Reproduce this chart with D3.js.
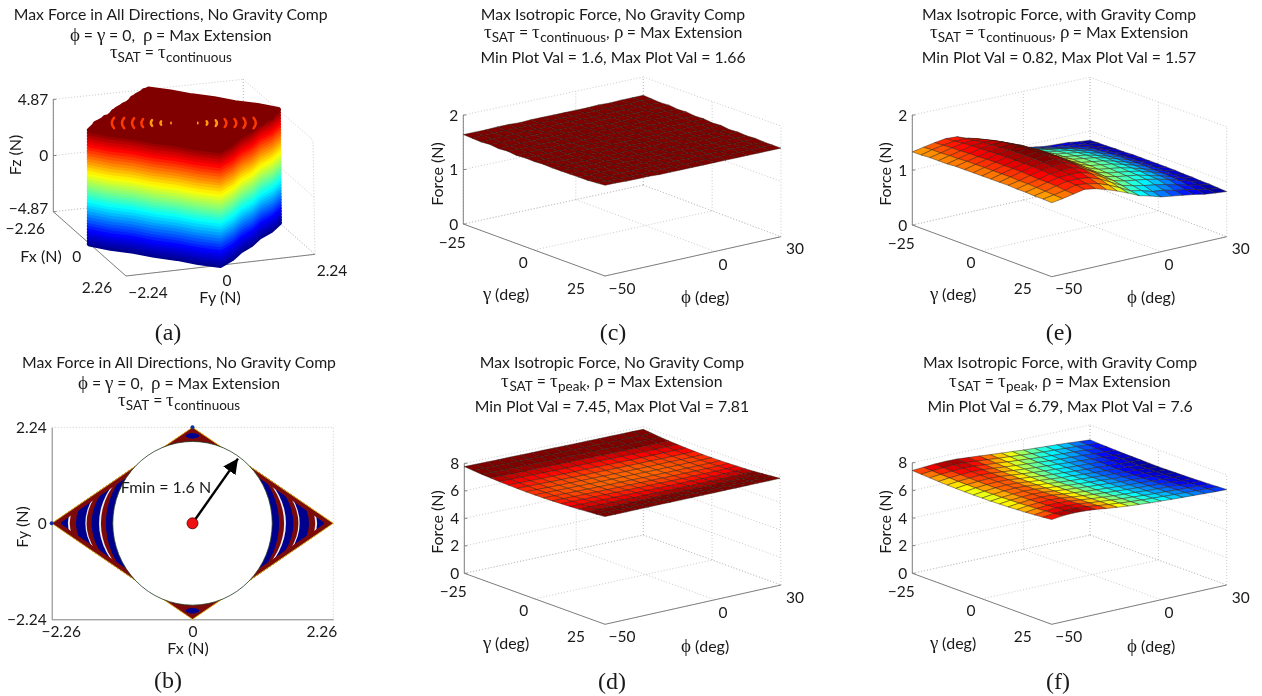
<!DOCTYPE html>
<html>
<head>
<meta charset="utf-8">
<style>
@font-face{
    font-family: "GreekSym";
    src: local("Liberation Serif");
    unicode-range: U+0370-03FF;
    size-adjust: 118%;
}
body{ margin: 0; background: #fff; }
svg{ display: block; filter: blur(0.35px); }
text{ font-family: "GreekSym", "Lato", sans-serif; fill: #1a1a1a; }
.title{ font-size: 15.8px; text-anchor: middle; }
.tick{ font-size: 15.5px; }
.label{ font-size: 16px; text-anchor: middle; }
.caption{ font-family: "Liberation Serif", serif; font-size: 24px; text-anchor: middle; }
.wall{ fill: none; stroke: #bdbdbd; stroke-width: 0.8; stroke-dasharray: 1 2; }
.axis3d{ fill: none; stroke: #808080; stroke-width: 1; }
</style>
<script src="https://d3js.org/d3.v7.min.js"></script>
</head>

<body>
<script>
// ---- data ----
var gammaDeg = [-25,-21.875,-18.75,-15.625,-12.5,-9.375,-6.25,-3.125,0,3.125,6.25,9.375,12.5,15.625,18.75,21.875,25];
var phiDeg = [-50,-45,-40,-35,-30,-25,-20,-15,-10,-5,0,5,10,15,20,25,30];

// rows are gamma, columns are phi
var forceC = [
[1.64,1.64,1.64,1.65,1.65,1.64,1.65,1.65,1.65,1.65,1.65,1.65,1.66,1.65,1.66,1.66,1.66],
[1.63,1.64,1.64,1.64,1.64,1.64,1.64,1.65,1.65,1.64,1.65,1.65,1.65,1.65,1.65,1.66,1.65],
[1.62,1.63,1.63,1.63,1.64,1.63,1.64,1.64,1.64,1.64,1.64,1.64,1.65,1.64,1.65,1.65,1.64],
[1.63,1.62,1.63,1.63,1.63,1.63,1.63,1.63,1.64,1.63,1.64,1.64,1.64,1.64,1.64,1.64,1.65],
[1.61,1.62,1.62,1.62,1.63,1.62,1.63,1.63,1.63,1.63,1.63,1.63,1.64,1.63,1.64,1.64,1.63],
[1.62,1.61,1.62,1.62,1.62,1.62,1.62,1.62,1.63,1.62,1.63,1.63,1.63,1.63,1.63,1.63,1.64],
[1.60,1.61,1.61,1.61,1.62,1.61,1.62,1.62,1.62,1.62,1.62,1.62,1.63,1.62,1.63,1.63,1.62],
[1.61,1.60,1.61,1.61,1.61,1.61,1.61,1.61,1.62,1.61,1.62,1.62,1.62,1.62,1.62,1.62,1.63],
[1.60,1.60,1.60,1.61,1.61,1.61,1.61,1.61,1.61,1.61,1.61,1.61,1.62,1.61,1.62,1.62,1.61],
[1.61,1.60,1.60,1.60,1.61,1.60,1.61,1.61,1.61,1.61,1.61,1.61,1.61,1.61,1.61,1.61,1.62],
[1.60,1.60,1.60,1.60,1.60,1.60,1.60,1.61,1.61,1.60,1.61,1.61,1.61,1.61,1.61,1.61,1.60],
[1.60,1.60,1.60,1.60,1.60,1.60,1.60,1.60,1.60,1.60,1.60,1.60,1.61,1.60,1.61,1.61,1.61],
[1.60,1.60,1.60,1.60,1.60,1.60,1.60,1.60,1.60,1.60,1.60,1.60,1.60,1.60,1.60,1.60,1.60],
[1.60,1.60,1.60,1.60,1.60,1.60,1.60,1.60,1.60,1.60,1.60,1.60,1.60,1.60,1.60,1.60,1.61],
[1.60,1.60,1.60,1.60,1.60,1.60,1.60,1.60,1.60,1.60,1.60,1.60,1.60,1.60,1.60,1.60,1.60],
[1.61,1.60,1.60,1.60,1.60,1.60,1.60,1.60,1.60,1.60,1.60,1.60,1.60,1.60,1.60,1.61,1.60],
[1.62,1.62,1.61,1.61,1.61,1.60,1.60,1.60,1.60,1.60,1.60,1.60,1.60,1.60,1.60,1.60,1.60]
];
var forceD = [
[7.76,7.76,7.76,7.76,7.77,7.77,7.77,7.78,7.78,7.78,7.78,7.79,7.79,7.80,7.80,7.81,7.81],
[7.70,7.69,7.69,7.69,7.70,7.70,7.70,7.70,7.70,7.70,7.70,7.71,7.71,7.72,7.72,7.73,7.74],
[7.64,7.64,7.63,7.63,7.63,7.63,7.63,7.64,7.64,7.64,7.64,7.64,7.65,7.65,7.66,7.67,7.67],
[7.60,7.59,7.58,7.58,7.58,7.58,7.58,7.58,7.58,7.58,7.58,7.58,7.59,7.59,7.60,7.61,7.62],
[7.56,7.55,7.54,7.54,7.54,7.53,7.53,7.53,7.53,7.53,7.53,7.54,7.54,7.55,7.55,7.56,7.58],
[7.53,7.52,7.51,7.50,7.50,7.50,7.50,7.50,7.50,7.50,7.50,7.50,7.51,7.51,7.52,7.53,7.54],
[7.51,7.50,7.49,7.48,7.48,7.47,7.47,7.47,7.47,7.47,7.47,7.47,7.48,7.48,7.49,7.50,7.52],
[7.49,7.48,7.47,7.46,7.46,7.46,7.46,7.45,7.45,7.45,7.45,7.45,7.46,7.47,7.47,7.48,7.50],
[7.49,7.48,7.47,7.46,7.46,7.45,7.45,7.45,7.45,7.45,7.45,7.45,7.46,7.46,7.47,7.48,7.50],
[7.49,7.48,7.47,7.46,7.46,7.45,7.45,7.45,7.45,7.45,7.45,7.45,7.46,7.46,7.47,7.48,7.50],
[7.50,7.49,7.48,7.48,7.48,7.47,7.47,7.47,7.47,7.47,7.47,7.47,7.48,7.48,7.49,7.50,7.52],
[7.52,7.51,7.50,7.50,7.50,7.49,7.49,7.49,7.49,7.49,7.49,7.49,7.50,7.50,7.51,7.52,7.54],
[7.54,7.53,7.53,7.52,7.52,7.52,7.52,7.52,7.52,7.52,7.52,7.52,7.53,7.53,7.54,7.55,7.56],
[7.57,7.57,7.56,7.56,7.56,7.55,7.55,7.56,7.56,7.56,7.56,7.56,7.57,7.57,7.58,7.59,7.60],
[7.61,7.60,7.60,7.60,7.60,7.60,7.60,7.60,7.61,7.61,7.61,7.61,7.62,7.62,7.63,7.63,7.65],
[7.65,7.65,7.65,7.65,7.65,7.66,7.66,7.66,7.66,7.66,7.66,7.67,7.67,7.67,7.68,7.69,7.70],
[7.70,7.70,7.70,7.71,7.71,7.72,7.72,7.72,7.73,7.73,7.73,7.74,7.74,7.74,7.75,7.75,7.76]
];
var forceE = [
[1.33,1.37,1.41,1.44,1.43,1.36,1.28,1.18,1.08,1.02,0.97,0.93,0.90,0.89,0.88,0.85,0.83],
[1.33,1.38,1.42,1.45,1.45,1.41,1.33,1.22,1.12,1.06,1.01,0.97,0.94,0.92,0.89,0.86,0.84],
[1.34,1.38,1.43,1.47,1.48,1.45,1.37,1.26,1.16,1.10,1.06,1.02,0.98,0.95,0.92,0.87,0.84],
[1.34,1.39,1.43,1.48,1.50,1.49,1.41,1.30,1.20,1.14,1.10,1.07,1.03,0.98,0.94,0.88,0.85],
[1.34,1.39,1.44,1.48,1.51,1.52,1.44,1.33,1.22,1.16,1.13,1.10,1.05,1.01,0.95,0.89,0.85],
[1.35,1.40,1.44,1.49,1.52,1.54,1.47,1.35,1.24,1.18,1.15,1.12,1.07,1.02,0.96,0.89,0.86],
[1.35,1.40,1.45,1.50,1.53,1.56,1.48,1.37,1.26,1.19,1.16,1.13,1.08,1.02,0.97,0.90,0.86],
[1.35,1.40,1.45,1.50,1.54,1.57,1.50,1.38,1.27,1.20,1.17,1.14,1.09,1.03,0.97,0.90,0.86],
[1.35,1.40,1.45,1.50,1.54,1.57,1.50,1.38,1.27,1.20,1.17,1.14,1.09,1.03,0.97,0.90,0.86],
[1.35,1.40,1.45,1.50,1.54,1.57,1.50,1.38,1.27,1.20,1.17,1.14,1.09,1.03,0.97,0.90,0.86],
[1.35,1.40,1.45,1.50,1.53,1.55,1.48,1.37,1.26,1.19,1.16,1.13,1.08,1.02,0.96,0.90,0.86],
[1.35,1.39,1.44,1.49,1.52,1.54,1.47,1.35,1.24,1.18,1.15,1.12,1.08,1.02,0.96,0.89,0.85],
[1.34,1.39,1.43,1.48,1.50,1.51,1.44,1.34,1.22,1.17,1.14,1.11,1.06,1.01,0.95,0.88,0.85],
[1.34,1.38,1.43,1.47,1.48,1.48,1.41,1.31,1.20,1.15,1.12,1.09,1.05,1.00,0.94,0.88,0.84],
[1.33,1.37,1.42,1.46,1.46,1.44,1.37,1.27,1.17,1.12,1.08,1.05,1.01,0.96,0.91,0.87,0.84],
[1.33,1.36,1.40,1.45,1.43,1.39,1.32,1.23,1.13,1.09,1.03,1.01,0.96,0.93,0.89,0.85,0.83],
[1.32,1.35,1.39,1.43,1.40,1.34,1.27,1.19,1.10,1.05,0.99,0.96,0.93,0.90,0.86,0.84,0.82]
];
var forceF = [
[7.44,7.50,7.56,7.59,7.58,7.52,7.46,7.39,7.33,7.27,7.21,7.16,7.12,7.08,7.03,6.97,6.92],
[7.39,7.46,7.52,7.56,7.54,7.48,7.42,7.35,7.29,7.23,7.17,7.12,7.08,7.04,7.00,6.94,6.89],
[7.35,7.43,7.49,7.53,7.51,7.44,7.38,7.31,7.25,7.19,7.13,7.08,7.05,7.01,6.96,6.91,6.87],
[7.31,7.40,7.46,7.50,7.48,7.41,7.34,7.27,7.21,7.16,7.10,7.05,7.02,6.98,6.93,6.89,6.85],
[7.28,7.37,7.44,7.48,7.45,7.38,7.31,7.24,7.18,7.13,7.08,7.03,6.99,6.95,6.91,6.87,6.83],
[7.26,7.36,7.42,7.46,7.44,7.36,7.29,7.22,7.16,7.11,7.06,7.01,6.98,6.94,6.89,6.85,6.82],
[7.24,7.34,7.41,7.45,7.42,7.34,7.27,7.20,7.14,7.09,7.04,6.99,6.96,6.92,6.88,6.84,6.81],
[7.23,7.33,7.40,7.44,7.41,7.33,7.26,7.19,7.13,7.08,7.03,6.98,6.95,6.91,6.87,6.83,6.80],
[7.23,7.33,7.40,7.44,7.41,7.33,7.26,7.19,7.13,7.08,7.03,6.98,6.95,6.91,6.87,6.83,6.79],
[7.23,7.33,7.40,7.44,7.41,7.33,7.26,7.19,7.13,7.08,7.04,6.98,6.95,6.91,6.87,6.83,6.80],
[7.25,7.35,7.41,7.45,7.42,7.34,7.27,7.20,7.14,7.09,7.04,6.99,6.96,6.92,6.88,6.84,6.81],
[7.26,7.36,7.43,7.46,7.43,7.34,7.27,7.20,7.14,7.09,7.04,7.00,6.97,6.93,6.89,6.85,6.82],
[7.29,7.39,7.45,7.48,7.44,7.35,7.28,7.21,7.15,7.10,7.05,7.01,6.98,6.94,6.90,6.86,6.84],
[7.32,7.42,7.48,7.50,7.45,7.37,7.29,7.22,7.16,7.11,7.07,7.02,6.99,6.95,6.92,6.88,6.86],
[7.36,7.46,7.52,7.52,7.47,7.38,7.31,7.24,7.18,7.13,7.08,7.04,7.01,6.97,6.94,6.91,6.88],
[7.41,7.51,7.56,7.55,7.50,7.40,7.32,7.25,7.19,7.14,7.10,7.06,7.03,7.00,6.96,6.93,6.91],
[7.46,7.56,7.60,7.58,7.52,7.42,7.34,7.27,7.21,7.16,7.12,7.08,7.05,7.02,6.99,6.96,6.94]
];

// panel a: stacked layers of the force cloud
var hullFx = [2.26,1.92,1.51,1.16,0.75,0.41,0,-0.41,-0.75,-1.16,-1.51,-1.92,-2.26,-1.92,-1.51,-1.16,-0.75,-0.41,0,0.41,0.75,1.16,1.51,1.92];
var hullFy = [0,0.40,0.75,1.15,1.49,1.90,2.24,1.90,1.49,1.15,0.75,0.40,0,-0.40,-0.75,-1.15,-1.49,-1.90,-2.24,-1.90,-1.49,-1.15,-0.75,-0.40];
var layerFz = [-4.87,-4.62,-4.37,-4.12,-3.87,-3.62,-3.37,-3.12,-2.87,-2.62,-2.37,-2.12,-1.87,-1.62,-1.37,-1.12,-0.87,-0.62,-0.37,-0.12,0.12,0.37,0.62,0.87,1.12,1.37,1.62,1.87,2.12,2.37,2.62,2.87,3.12,3.37,3.62,3.87,4.12,4.37,4.62,4.87];
var capBumpFx = [-0.30,-0.62,-0.95,-1.30,-1.70,-2.10,0.38,0.70,1.05];
var capBumpFy = [-1.96,-1.62,-1.29,-0.92,-0.56,-0.14,1.92,1.58,1.22];
var rippleFx = [-0.50,-0.42,-0.35,-0.29,-0.23,-0.16,-0.09,0.10,0.16,0.23,0.29,0.36,0.42,0.50];
var rippleFy = [-1.47,-1.26,-1.05,-0.86,-0.67,-0.48,-0.27,0.29,0.48,0.67,0.86,1.07,1.26,1.47];
var rippleLen = [0.9,0.9,0.85,0.7,0.5,0.3,0.12,0.12,0.3,0.5,0.7,0.7,0.85,0.9];

// panel b: nested rings, big to small, clipped by the diamond
var diamondFx = [-2.26,0,2.26,0];
var diamondFy = [0,2.24,0,-2.24];
var ringRx = [2.11,2.00,1.97,1.87,1.72,1.70,1.62,1.50,1.47,1.39];
var ringRy = [1.40,1.40,1.45,1.47,1.59,1.59,1.63,1.73,1.75,1.87];
var ringKind = ["blue","white","red","blue","white","red","blue","white","red","blue"];
var fminRx = 1.28, fminRy = 1.91;
var arrowTip = [0.73,1.51];
var tipBlobFy = [2.04,-2.04];
var tipDotFx = [-2.26,0];
var tipDotFy = [0,2.24];

var titleA = ["Max Force in All Directions, No Gravity Comp","ϕ = γ = 0,  ρ = Max Extension","τ_{SAT} = τ_{continuous}"];
var titleC = ["Max Isotropic Force, No Gravity Comp","τ_{SAT} = τ_{continuous}, ρ = Max Extension","Min Plot Val = 1.6, Max Plot Val = 1.66"];
var titleD = ["Max Isotropic Force, No Gravity Comp","τ_{SAT} = τ_{peak}, ρ = Max Extension","Min Plot Val = 7.45, Max Plot Val = 7.81"];
var titleE = ["Max Isotropic Force, with Gravity Comp","τ_{SAT} = τ_{continuous}, ρ = Max Extension","Min Plot Val = 0.82, Max Plot Val = 1.57"];
var titleF = ["Max Isotropic Force, with Gravity Comp","τ_{SAT} = τ_{peak}, ρ = Max Extension","Min Plot Val = 6.79, Max Plot Val = 7.6"];

// ---- shared stuff ----
var svg = d3.select("body").append("svg").attr("width", 1262).attr("height", 696);

var jet = d3.scaleLinear()
    .domain([0, 1/8, 3/8, 5/8, 7/8, 1])
    .range(["#00008f", "#0000ff", "#00ffff", "#ffff00", "#ff0000", "#800000"])
    .clamp(true);

var fmt = function(d){ return String(d).replace("-", "−"); };

function drawTitle(lines, cx, ys){
    lines.forEach(function(line, i){
        var t = svg.append("text").attr("class", "title").attr("x", cx).attr("y", ys[i]);
        var parts = line.split(/_\{|\}/);
        var shift = 0;
        parts.forEach(function(p, k){
            if(p === "") return;
            var isSub = k % 2 == 1;
            var dy = (isSub ? 4 : 0) - shift;
            shift = isSub ? 4 : 0;
            var s = t.append("tspan").attr("dy", dy).attr("xml:space", "preserve").text(p);
            if(isSub) s.style("font-size", "13.5px");
        });
    });
}

function caption(s, x, y){
    svg.append("text").attr("class", "caption").attr("x", x).attr("y", y).text(s);
}

// bilinear box: corners go left, front, right, back
function makeProjection(box, xS, yS, zS){
    function mix(c, u, v){
        return [
            (1-u)*(1-v)*c[0][0] + u*(1-v)*c[1][0] + u*v*c[2][0] + (1-u)*v*c[3][0],
            (1-u)*(1-v)*c[0][1] + u*(1-v)*c[1][1] + u*v*c[2][1] + (1-u)*v*c[3][1]
        ];
    }
    return function(x, y, z){
        var u = xS(x), v = yS(y), w = zS(z);
        var a = mix(box.floor, u, v), b = mix(box.top, u, v);
        return [a[0] + (b[0]-a[0])*w, a[1] + (b[1]-a[1])*w];
    };
}

function drawBox(g, p, o){
    var x0 = o.xS.domain()[0], x1 = o.xS.domain()[1];
    var y0 = o.yS.domain()[0], y1 = o.yS.domain()[1];
    var z0 = o.zS.domain()[0], z1 = o.zS.domain()[1];
    var seg = d3.line();
    function wall(a, b){ g.append("path").attr("class", "wall").attr("d", seg([a, b])); }
    function solid(a, b){ g.append("path").attr("class", "axis3d").attr("d", seg([a, b])); }

    o.zTicks.forEach(function(z){
        wall(p(x0,y0,z), p(x0,y1,z));
        wall(p(x0,y1,z), p(x1,y1,z));
    });
    o.xTicks.forEach(function(x){
        wall(p(x,y0,z0), p(x,y1,z0));
        wall(p(x,y1,z0), p(x,y1,z1));
    });
    o.yTicks.forEach(function(y){
        wall(p(x0,y,z0), p(x1,y,z0));
        wall(p(x0,y,z0), p(x0,y,z1));
    });

    // z axis and the two front floor edges
    solid(p(x0,y0,z0), p(x0,y0,z1));
    solid(p(x0,y0,z0), p(x1,y0,z0));
    solid(p(x1,y0,z0), p(x1,y1,z0));
    o.zTicks.forEach(function(z){
        var a = p(x0,y0,z);
        solid(a, [a[0]+3, a[1]]);
    });

    o.zTicks.forEach(function(z, i){
        var a = p(x0,y0,z);
        var dy = o.zDy ? o.zDy[i] : 0;
        g.append("text").attr("class", "tick").attr("text-anchor", "end")
            .attr("x", a[0]-5).attr("y", a[1]+5.5+dy).text(fmt(z));
    });
    o.xTicks.forEach(function(x, i){
        var a = p(x,y0,z0);
        g.append("text").attr("class", "tick").attr("text-anchor", "middle")
            .attr("x", a[0]+o.xOff[i][0]).attr("y", a[1]+o.xOff[i][1]+5.5).text(fmt(x));
    });
    o.yTicks.forEach(function(y, i){
        var a = p(x1,y,z0);
        g.append("text").attr("class", "tick").attr("text-anchor", "middle")
            .attr("x", a[0]+o.yOff[i][0]).attr("y", a[1]+o.yOff[i][1]+5.5).text(fmt(y));
    });
    g.append("text").attr("class", "label").attr("x", o.xLabel[0]).attr("y", o.xLabel[1]).text(o.xName);
    g.append("text").attr("class", "label").attr("x", o.yLabel[0]).attr("y", o.yLabel[1]).text(o.yName);
    g.append("text").attr("class", "label")
        .attr("transform", "translate(" + o.zLabel[0] + "," + o.zLabel[1] + ") rotate(-90)").text(o.zName);
}

function surfacePanel(o){
    var g = svg.append("g");
    o.xS = d3.scaleLinear().domain([-25, 25]).range([0, 1]);
    o.yS = d3.scaleLinear().domain([-50, 30]).range([0, 1]);
    o.zS = d3.scaleLinear().domain([0, o.zMax]).range([0, 1]);
    o.xTicks = [-25, 0, 25];
    o.yTicks = [-50, 0, 30];
    o.xOff = [[-11, 18], [-11, 12], [-29, 12]];
    o.yOff = [[17, 12], [8, 13], [14, 12]];
    o.xName = "γ (deg)"; o.yName = "ϕ (deg)"; o.zName = "Force (N)";
    var p = makeProjection(o.box, o.xS, o.yS, o.zS);
    drawBox(g, p, o);

    var colorNorm = d3.scaleLinear().domain(o.clim).range([0, 1]).clamp(true);
    // back to front: far corner is gamma -25, phi 30
    for(var i = 0; i < gammaDeg.length-1; i++){
        for(var j = phiDeg.length-2; j >= 0; j--){
            var v = [o.z[i][j], o.z[i+1][j], o.z[i+1][j+1], o.z[i][j+1]];
            var pts = [
                p(gammaDeg[i], phiDeg[j], v[0]),
                p(gammaDeg[i+1], phiDeg[j], v[1]),
                p(gammaDeg[i+1], phiDeg[j+1], v[2]),
                p(gammaDeg[i], phiDeg[j+1], v[3])
            ];
            g.append("path")
                .attr("d", d3.line()(pts) + "Z")
                .attr("fill", jet(colorNorm(d3.mean(v))))
                .attr("stroke", "#2a1a10")
                .attr("stroke-opacity", 0.75)
                .attr("stroke-width", 0.6)
                .attr("stroke-linejoin", "round");
        }
    }
}

// ---- panel a ----
(function(){
    var g = svg.append("g");
    var o = {
        xS: d3.scaleLinear().domain([-2.26, 2.26]).range([0, 1]),
        yS: d3.scaleLinear().domain([-2.24, 2.24]).range([0, 1]),
        zS: d3.scaleLinear().domain([-4.87, 4.87]).range([0, 1]),
        xTicks: [-2.26, 0, 2.26], yTicks: [-2.24, 0, 2.24], zTicks: [-4.87, 0, 4.87], zDy: [-3, 0, 0],
        xOff: [[-28, 17], [-13, 13], [-29, 11]],
        yOff: [[22, 16], [6.5, 15], [17, 16]],
        xName: "Fx (N)", yName: "Fy (N)", zName: "Fz (N)",
        xLabel: [41, 262], yLabel: [220, 303], zLabel: [21, 155]
    };
    var box = {
        floor: [[53.3,211.7],[126,276],[315,254.3],[243.3,191]],
        top: [[53.3,99.3],[126,161],[313,140],[243.3,79.3]]
    };
    var p = makeProjection(box, o.xS, o.yS, o.zS);
    drawBox(g, p, o);

    var colorNorm = d3.scaleLinear().domain([-4.87, 4.87]).range([0, 1]);
    var ring = d3.line().curve(d3.curveLinearClosed);
    layerFz.forEach(function(z){
        var pts = hullFx.map(function(fx, i){ return p(fx, hullFy[i], z); });
        g.append("path")
            .attr("d", ring(pts))
            .attr("fill", z == 4.87 ? jet(1) : "none")
            .attr("stroke", jet(colorNorm(z)))
            .attr("stroke-width", 5.5)
            .attr("stroke-linejoin", "round");
    });
    capBumpFx.forEach(function(fx, i){
        var c = p(fx, capBumpFy[i], 4.87);
        g.append("circle").attr("cx", c[0]).attr("cy", c[1]).attr("r", 4.2).attr("fill", jet(1));
    });
    // little orange crescents showing through on the top of the cloud
    rippleFx.forEach(function(fx, i){
        var c = p(fx, rippleFy[i], 4.6);
        var top = p(fx, rippleFy[i], 4.6 + rippleLen[i]*0.5);
        var bot = p(fx, rippleFy[i], 4.6 - rippleLen[i]*0.5);
        var bulge = (fx < 0 ? -1 : 1) * rippleLen[i] * 5;
        g.append("path")
            .attr("d", "M" + top + "Q" + [c[0]+bulge, c[1]] + " " + bot)
            .attr("fill", "none")
            .attr("stroke", rippleLen[i] > 0.6 ? "#ff3a00" : "#ff9a10")
            .attr("stroke-width", rippleLen[i] > 0.2 ? 2.4 : 1.6)
            .attr("stroke-linecap", "round");
    });
})();

// ---- panel b ----
(function(){
    var g = svg.append("g");
    var x = d3.scaleLinear().domain([-2.26, 2.26]).range([51.7, 333.3]);
    var y = d3.scaleLinear().domain([-2.24, 2.24]).range([619.3, 427.3]);

    g.append("path").attr("class", "wall").attr("d", d3.line()([[x(-2.26),y(2.24)],[x(2.26),y(2.24)],[x(2.26),y(-2.24)]]));

    var ax = g.append("g").attr("transform", "translate(0," + y(-2.24) + ")")
        .call(d3.axisBottom(x).tickValues([-2.26, 0, 2.26]).tickSize(0).tickFormat(fmt));
    var ay = g.append("g").attr("transform", "translate(" + x(-2.26) + ",0)")
        .call(d3.axisLeft(y).tickValues([-2.24, 0, 2.24]).tickSize(0).tickFormat(fmt));
    ax.selectAll("path").attr("stroke", "#808080");
    ay.selectAll("path").attr("stroke", "#808080");
    ax.selectAll("text").attr("class", "tick").attr("dy", null).attr("y", 18)
        .attr("dx", function(d){ return d < 0 ? 9 : d > 0 ? -12 : 0; });
    ay.selectAll("text").attr("class", "tick").attr("dy", "0.36em").attr("x", -5);
    ax.attr("font-family", null).attr("font-size", null);
    ay.attr("font-family", null).attr("font-size", null);

    var diamond = d3.line()(diamondFx.map(function(d, i){ return [x(d), y(diamondFy[i])]; })) + "Z";
    svg.append("clipPath").attr("id", "diamondClip").append("path").attr("d", diamond);
    g.append("path").attr("d", diamond).attr("fill", "#7d0a0a");

    var colors = {blue: "#00008f", white: "#eeeeee", red: "#7d0a0a"};
    var inner = g.append("g").attr("clip-path", "url(#diamondClip)");
    ringRx.forEach(function(r, i){
        inner.append("ellipse")
            .attr("cx", x(0)).attr("cy", y(0))
            .attr("rx", x(r) - x(0)).attr("ry", y(0) - y(ringRy[i]))
            .attr("fill", colors[ringKind[i]]);
    });
    // dark red border runs along the inside of the diamond, over the rings
    inner.append("path").attr("d", diamond).attr("fill", "none")
        .attr("stroke", "#7d0a0a").attr("stroke-width", 9);
    tipBlobFy.forEach(function(fy){
        inner.append("ellipse")
            .attr("cx", x(0)).attr("cy", y(fy))
            .attr("rx", x(0.11) - x(0)).attr("ry", y(0) - y(0.065))
            .attr("fill", colors.blue);
    });
    g.append("path").attr("d", diamond).attr("fill", "none")
        .attr("stroke", "#e9c21a").attr("stroke-width", 0.9);
    tipDotFx.forEach(function(fx, i){
        g.append("circle").attr("cx", x(fx)).attr("cy", y(tipDotFy[i])).attr("r", 2).attr("fill", "#1030a0");
    });
    g.append("ellipse")
        .attr("cx", x(0)).attr("cy", y(0))
        .attr("rx", x(fminRx) - x(0)).attr("ry", y(0) - y(fminRy))
        .attr("fill", "#fff").attr("stroke", "#1f3a1f").attr("stroke-width", 0.8);

    svg.append("marker").attr("id", "arrowHead").attr("viewBox", "0 0 10 10")
        .attr("refX", 10).attr("refY", 5).attr("markerUnits", "userSpaceOnUse")
        .attr("markerWidth", 15).attr("markerHeight", 15).attr("orient", "auto")
        .append("path").attr("d", "M0,0L10,5L0,10Z").attr("fill", "#000");
    g.append("line")
        .attr("x1", x(0)).attr("y1", y(0))
        .attr("x2", x(arrowTip[0])).attr("y2", y(arrowTip[1]))
        .attr("stroke", "#000").attr("stroke-width", 2.4)
        .attr("marker-end", "url(#arrowHead)");
    g.append("circle").attr("cx", x(0)).attr("cy", y(0)).attr("r", 5.5)
        .attr("fill", "#f01010").attr("stroke", "#400").attr("stroke-width", 0.8);

    g.append("text").attr("class", "label").attr("x", 166).attr("y", 493).text("Fmin = 1.6 N");
    g.append("text").attr("class", "label").attr("x", 188).attr("y", 654).text("Fx (N)");
    g.append("text").attr("class", "label")
        .attr("transform", "translate(28,527) rotate(-90)").text("Fy (N)");
})();

// ---- surfaces ----
surfacePanel({
    z: forceC, zMax: 2, clim: [0.82, 1.60], zTicks: [0, 1, 2],
    box: {floor: [[463.3,224],[605,276],[781,236.7],[643.3,185]], top: [[463.3,115],[605,164],[781,126],[643.3,77]]},
    xLabel: [506,300], yLabel: [705,303], zLabel: [443,174]
});
surfacePanel({
    z: forceD, zMax: 8, clim: [6.85, 7.62], zTicks: [0, 2, 4, 6, 8],
    box: {floor: [[464.3,573.3],[605,624.3],[781,585],[643.3,535]], top: [[464.3,463.3],[605,512.3],[780,475],[643.3,426.7]]},
    xLabel: [506,649], yLabel: [705,652], zLabel: [443,522]
});
surfacePanel({
    z: forceE, zMax: 2, clim: [0.82, 1.55], zTicks: [0, 1, 2],
    box: {floor: [[912.3,225],[1051.7,276.7],[1226.7,236.7],[1090,185]], top: [[912.3,115],[1051.7,164.7],[1226.7,126.7],[1090,77.3]]},
    xLabel: [953,300], yLabel: [1151,303], zLabel: [891,174]
});
surfacePanel({
    z: forceF, zMax: 8, clim: [6.79, 7.6], zTicks: [0, 2, 4, 6, 8],
    box: {floor: [[912.3,573.3],[1051.7,624.3],[1226.7,585],[1090,535]], top: [[912.3,462.7],[1051.7,512],[1226.7,475],[1090,425]]},
    xLabel: [953,649], yLabel: [1151,652], zLabel: [891,522]
});

// ---- titles and captions ----
drawTitle(titleA, 170.7, [20, 41, 58]);
drawTitle(titleA, 179, [368, 389, 406]);
drawTitle(titleC, 613, [20, 38, 63]);
drawTitle(titleD, 612, [368, 387, 412]);
drawTitle(titleE, 1059, [20, 38, 63]);
drawTitle(titleF, 1060, [368, 387, 412]);

caption("(a)", 168, 340);
caption("(b)", 168, 688);
caption("(c)", 613, 340);
caption("(d)", 612, 689);
caption("(e)", 1059, 340);
caption("(f)", 1058, 689);
</script>
</body>
</html>
